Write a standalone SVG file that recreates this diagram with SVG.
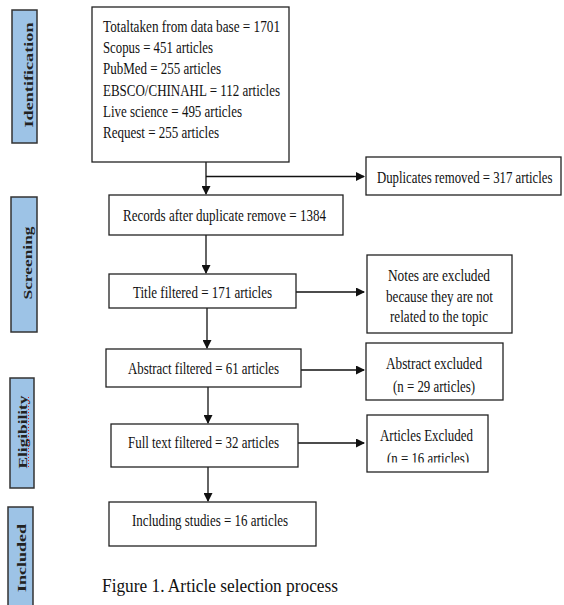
<svg xmlns="http://www.w3.org/2000/svg" width="564" height="605" viewBox="0 0 564 605">
<style>
.box{fill:#fff;stroke:#222;stroke-width:1.3}
.side{fill:#9dc3e6;stroke:#333;stroke-width:1.5}
.t{font-family:"Liberation Serif","Times New Roman",serif;font-size:16px;fill:#111}
.s{font-family:"Liberation Serif","Times New Roman",serif;font-size:13px;font-weight:bold;fill:#222;text-anchor:middle}
.ln{stroke:#111;stroke-width:1.3;fill:none}
</style>
<defs>
<marker id="ah" markerWidth="9" markerHeight="9" refX="8" refY="4.5" orient="auto" markerUnits="userSpaceOnUse">
<path d="M0,0 L9,4.5 L0,9 Z" fill="#111"/>
</marker>
<clipPath id="clipAE"><rect x="367" y="415" width="121" height="47.5"/></clipPath>
</defs>
<rect width="564" height="605" fill="#fff"/>

<g id="stage-identification">
<rect class="side" x="12" y="10" width="25" height="133"/>
<text class="s" transform="translate(33,75) rotate(-90)" textLength="105" lengthAdjust="spacingAndGlyphs">Identification</text>
</g>
<g id="stage-screening">
<rect class="side" x="11" y="197" width="26" height="135"/>
<text class="s" transform="translate(32,263) rotate(-90)" textLength="73" lengthAdjust="spacingAndGlyphs">Screening</text>
</g>
<g id="stage-eligibility">
<rect class="side" x="10" y="378" width="24" height="110"/>
<text class="s" transform="translate(27,432) rotate(-90)" textLength="73" lengthAdjust="spacingAndGlyphs">Eligibility</text>
<line x1="28.5" y1="397" x2="28.5" y2="468" stroke="#e02020" stroke-width="1" stroke-dasharray="1,2"/>
</g>
<g id="stage-included">
<rect class="side" x="8" y="507" width="25" height="102"/>
<text class="s" transform="translate(26,558) rotate(-90)" textLength="68" lengthAdjust="spacingAndGlyphs">Included</text>
</g>

<g id="connectors">
<line class="ln" x1="206" y1="162" x2="206" y2="194" marker-end="url(#ah)"/>
<line class="ln" x1="206" y1="176.5" x2="364" y2="176.5" marker-end="url(#ah)"/>
<line class="ln" x1="206" y1="235" x2="206" y2="273" marker-end="url(#ah)"/>
<line class="ln" x1="296" y1="292" x2="364" y2="292" marker-end="url(#ah)"/>
<line class="ln" x1="207" y1="308" x2="207" y2="348" marker-end="url(#ah)"/>
<line class="ln" x1="301" y1="370" x2="364" y2="370" marker-end="url(#ah)"/>
<line class="ln" x1="208" y1="387" x2="208" y2="423" marker-end="url(#ah)"/>
<line class="ln" x1="298" y1="443" x2="364" y2="443" marker-end="url(#ah)"/>
<line class="ln" x1="208" y1="467" x2="208" y2="501" marker-end="url(#ah)"/>
</g>

<g id="node-total">
<rect class="box" x="92" y="7" width="197" height="155"/>
<text class="t" x="103" y="32" textLength="177" lengthAdjust="spacingAndGlyphs">Totaltaken from data base = 1701</text>
<text class="t" x="103" y="53.2" textLength="110" lengthAdjust="spacingAndGlyphs">Scopus = 451 articles</text>
<text class="t" x="103" y="74.4" textLength="118" lengthAdjust="spacingAndGlyphs">PubMed = 255 articles</text>
<text class="t" x="103" y="95.6" textLength="177" lengthAdjust="spacingAndGlyphs">EBSCO/CHINAHL = 112 articles</text>
<text class="t" x="103" y="116.8" textLength="139" lengthAdjust="spacingAndGlyphs">Live science = 495 articles</text>
<text class="t" x="103" y="138" textLength="116" lengthAdjust="spacingAndGlyphs">Request = 255 articles</text>
</g>

<g id="node-duplicates">
<rect class="box" x="366" y="157" width="195" height="38"/>
<text class="t" transform="translate(377,183) scale(0.8,1)" x="0" y="0">Duplicates removed = 317 articles</text>
</g>

<g id="node-records">
<rect class="box" x="109" y="195" width="234" height="40"/>
<text class="t" x="123" y="221" textLength="203" lengthAdjust="spacingAndGlyphs">Records after duplicate remove = 1384</text>
</g>

<g id="node-title">
<rect class="box" x="109" y="274" width="187" height="34"/>
<text class="t" x="133" y="298" textLength="139" lengthAdjust="spacingAndGlyphs">Title  filtered = 171 articles</text>
</g>

<g id="node-notes">
<rect class="box" x="367" y="255" width="145" height="78"/>
<text class="t" x="388" y="281" textLength="102" lengthAdjust="spacingAndGlyphs">Notes are excluded</text>
<text class="t" x="386" y="302" textLength="107" lengthAdjust="spacingAndGlyphs">because they are not</text>
<text class="t" x="390" y="322" textLength="98" lengthAdjust="spacingAndGlyphs">related to the topic</text>
</g>

<g id="node-abstract">
<rect class="box" x="106" y="349" width="195" height="38"/>
<text class="t" x="128" y="374" textLength="151" lengthAdjust="spacingAndGlyphs">Abstract filtered = 61 articles</text>
</g>

<g id="node-abstract-excluded">
<rect class="box" x="366" y="343" width="137" height="57"/>
<text class="t" x="386" y="369" textLength="96" lengthAdjust="spacingAndGlyphs">Abstract excluded</text>
<text class="t" x="393" y="392" textLength="82" lengthAdjust="spacingAndGlyphs">(n = 29 articles)</text>
</g>

<g id="node-fulltext">
<rect class="box" x="111" y="424" width="187" height="43"/>
<text class="t" x="128" y="448" textLength="151" lengthAdjust="spacingAndGlyphs">Full text filtered = 32 articles</text>
</g>

<g id="node-articles-excluded">
<rect class="box" x="367" y="415" width="121" height="57"/>
<text class="t" x="380" y="441" textLength="93" lengthAdjust="spacingAndGlyphs">Articles Excluded</text>
<text class="t" x="387" y="464" textLength="82" lengthAdjust="spacingAndGlyphs" clip-path="url(#clipAE)">(n = 16 articles)</text>
</g>

<g id="node-including">
<rect class="box" x="109" y="502" width="207" height="44"/>
<text class="t" x="132" y="526" textLength="156" lengthAdjust="spacingAndGlyphs">Including studies = 16 articles</text>
</g>

<text x="102" y="592" font-family="Liberation Serif, Times New Roman, serif" font-size="19" fill="#111" textLength="236" lengthAdjust="spacingAndGlyphs">Figure 1. Article selection process</text>
</svg>
